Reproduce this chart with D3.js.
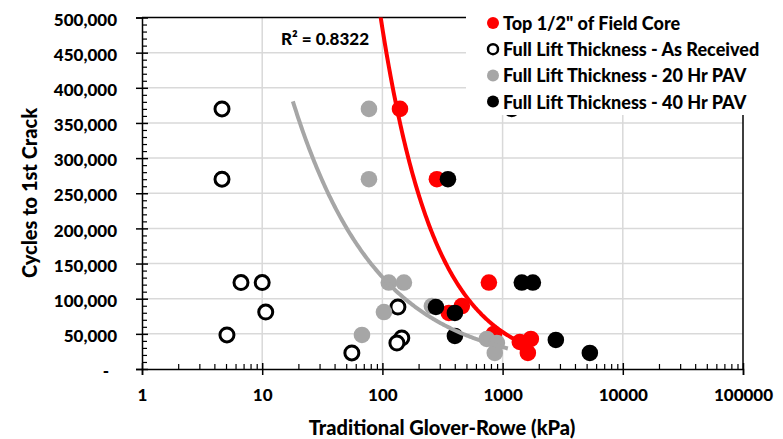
<!DOCTYPE html>
<html>
<head>
<meta charset="utf-8">
<script src="https://cdn.jsdelivr.net/npm/d3@7"></script>
<style>
  body { margin: 0; background: #fff; }
  text { font-family: Lato, "Open Sans", sans-serif; font-weight: 900; fill: #000; }
</style>
</head>
<body>
<svg id="chart" width="783" height="439"></svg>
<script>
// Series labels
const seriesNames = [
  'Top 1/2" of Field Core',
  "Full Lift Thickness - As Received",
  "Full Lift Thickness - 20 Hr PAV",
  "Full Lift Thickness - 40 Hr PAV"
];

// Traditional Glover-Rowe (kPa) vs cycles to first crack, per series
const topHalfGR     = [140, 284, 769, 458, 357, 846, 1390, 1718, 1622];
const topHalfCycles = [370000, 270000, 123000, 89600, 79700, 49800, 38400, 42700, 22800];

const asReceivedGR     = [4.63, 4.63, 6.66, 10.0, 10.7, 5.09, 55.7, 134.6, 145, 132];
const asReceivedCycles = [370000, 270000, 123000, 123000, 81000, 48400, 22800, 88200, 44100, 37000];

const pav20GR     = [77.3, 77.3, 113, 151, 103, 67.6, 258, 740, 896, 861];
const pav20Cycles = [370000, 270000, 123000, 123000, 81000, 48400, 89600, 42700, 37000, 22800];

const pav40GR     = [1190, 351, 279, 401, 401, 1445, 1785, 2773, 5320];
const pav40Cycles = [370000, 270000, 88200, 79700, 47000, 123000, 123000, 41300, 22800];

// Axis ticks
const xTicks = [1, 10, 100, 1000, 10000, 100000];
const yTicks = [0, 50000, 100000, 150000, 200000, 250000, 300000, 350000, 400000, 450000, 500000];

// Extent over which each power trendline is drawn
const topHalfTrendRange = [90, 1650];
const pav20TrendRange   = [18, 1106];
const r2Label = "R\u00B2 = 0.8322";

// Least-squares power fit y = a * x^b (linear regression in log-log space)
function powerFit(xs, ys) {
  const lx = xs.map(Math.log), ly = ys.map(Math.log);
  const mx = d3.mean(lx), my = d3.mean(ly);
  let sxy = 0, sxx = 0;
  lx.forEach((v, i) => { sxy += (v - mx) * (ly[i] - my); sxx += (v - mx) * (v - mx); });
  const b = sxy / sxx;
  return { a: Math.exp(my - b * mx), b };
}

const svg = d3.select("#chart");
const margin = { left: 142, right: 40, top: 17.5, bottom: 70 };
const W = 783, H = 439;
const plotW = W - margin.left - margin.right;
const plotH = H - margin.top - margin.bottom;

const x = d3.scaleLog().domain([1, 100000]).range([margin.left, margin.left + plotW]);
const y = d3.scaleLinear().domain([0, 500000]).range([margin.top + plotH, margin.top]);

svg.append("defs").append("clipPath").attr("id", "plotClip")
  .append("rect").attr("x", margin.left).attr("y", margin.top)
  .attr("width", plotW).attr("height", plotH);

// Gridlines
const grid = svg.append("g").attr("stroke", "#d9d9d9").attr("stroke-width", 1.5);
grid.selectAll("line.h").data(yTicks.filter(v => v > 0 && v < 500000)).join("line")
  .attr("x1", margin.left).attr("x2", margin.left + plotW)
  .attr("y1", d => y(d)).attr("y2", d => y(d));
grid.selectAll("line.v").data(xTicks.filter(v => v > 1 && v < 100000)).join("line")
  .attr("y1", margin.top).attr("y2", margin.top + plotH)
  .attr("x1", d => x(d)).attr("x2", d => x(d));

// Plot frame (top and right)
svg.append("path")
  .attr("d", `M${margin.left},${margin.top}H${margin.left + plotW}V${margin.top + plotH}`)
  .attr("fill", "none").attr("stroke", "#000").attr("stroke-width", 1.5);

// Markers
const series = [
  { xs: topHalfGR, ys: topHalfCycles, fill: "#ff0000", stroke: "none" },
  { xs: asReceivedGR, ys: asReceivedCycles, fill: "#fff", stroke: "#000" },
  { xs: pav20GR, ys: pav20Cycles, fill: "#a6a6a6", stroke: "none" },
  { xs: pav40GR, ys: pav40Cycles, fill: "#000", stroke: "none" }
];
const pts = svg.append("g").attr("clip-path", "url(#plotClip)");
series.forEach(s => {
  pts.append("g").selectAll("circle").data(s.xs.map((v, i) => [v, s.ys[i]])).join("circle")
    .attr("cx", d => x(d[0])).attr("cy", d => y(d[1]))
    .attr("r", s.stroke === "none" ? 8.3 : 7)
    .attr("fill", s.fill).attr("stroke", s.stroke).attr("stroke-width", 3);
});

// Power trendlines
function trendPath(fit, range) {
  const lr = [Math.log10(range[0]), Math.log10(range[1])];
  const xs = d3.range(0, 201).map(i => Math.pow(10, lr[0] + (lr[1] - lr[0]) * i / 200));
  return d3.line().x(d => x(d)).y(d => y(fit.a * Math.pow(d, fit.b)))(xs);
}
const trends = svg.append("g").attr("clip-path", "url(#plotClip)").attr("fill", "none")
  .attr("stroke-width", 4);
trends.append("path").attr("d", trendPath(powerFit(pav20GR, pav20Cycles), pav20TrendRange))
  .attr("stroke", "#a6a6a6");
trends.append("path").attr("d", trendPath(powerFit(topHalfGR, topHalfCycles), topHalfTrendRange))
  .attr("stroke", "#ff0000");

// X axis
const xAxisY = margin.top + plotH;
const xAxis = svg.append("g").attr("transform", `translate(0,${xAxisY})`)
  .call(d3.axisBottom(x).tickValues(xTicks).tickFormat(d3.format("d")).tickSize(6).tickPadding(0));
xAxis.select(".domain").attr("stroke-width", 1.5);
xAxis.selectAll(".tick line").attr("stroke-width", 1.5).attr("y1", -6);
xAxis.selectAll(".tick text").attr("y", 26).attr("dy", "0.35em").style("font-size", "17px");

const xMinor = [];
for (let e = 0; e < 5; e++) for (let m = 2; m <= 9; m++) xMinor.push(m * Math.pow(10, e));
svg.append("g").attr("transform", `translate(0,${xAxisY})`)
  .call(d3.axisTop(x).tickValues(xMinor).tickFormat("").tickSize(5))
  .call(g => g.select(".domain").remove())
  .selectAll(".tick line").attr("stroke-width", 1.2);

// Y axis
const yAxis = svg.append("g").attr("transform", `translate(${margin.left},0)`)
  .call(d3.axisLeft(y).tickValues(yTicks)
    .tickFormat(d => d === 0 ? "-" : d3.format(",")(d)).tickSize(6).tickPadding(0));
yAxis.select(".domain").attr("stroke-width", 1.5);
yAxis.selectAll(".tick line").attr("stroke-width", 1.5).attr("x1", 6);
yAxis.selectAll(".tick text").attr("x", -25).attr("dy", "0.45em").style("font-size", "17px");
yAxis.selectAll(".tick text").filter(d => d === 0).attr("x", -33);

const yMinor = d3.range(10000, 500000, 10000).filter(v => v % 50000 !== 0);
svg.append("g").attr("transform", `translate(${margin.left},0)`)
  .call(d3.axisRight(y).tickValues(yMinor).tickFormat("").tickSize(5))
  .call(g => g.select(".domain").remove())
  .selectAll(".tick line").attr("stroke-width", 1.2);

// Axis titles
svg.append("text").attr("x", 442).attr("y", 427).attr("text-anchor", "middle")
  .attr("dominant-baseline", "central").style("font-size", "20px")
  .text("Traditional Glover-Rowe (kPa)");
svg.append("text").attr("transform", "translate(29,193) rotate(-90)").attr("text-anchor", "middle")
  .attr("dominant-baseline", "central").style("font-size", "20px")
  .text("Cycles to 1st Crack");

// R-squared label of the field-core trendline
svg.append("text").attr("x", 281).attr("y", 38).attr("dominant-baseline", "central")
  .style("font-size", "17px").text(r2Label);

// Legend
const legend = svg.append("g");
legend.append("rect").attr("x", 466).attr("y", 0).attr("width", 317).attr("height", 115).attr("fill", "#fff");
const legendRows = legend.selectAll("g.row").data(series).join("g")
  .attr("transform", (d, i) => `translate(493,${23 + i * 26.2})`);
legendRows.append("circle")
  .attr("r", d => d.stroke === "none" ? 6 : 5)
  .attr("fill", d => d.fill).attr("stroke", d => d.stroke).attr("stroke-width", 2.5);
legendRows.append("text").attr("x", 10).attr("dominant-baseline", "central")
  .style("font-size", "18px").text((d, i) => seriesNames[i]);
</script>
</body>
</html>
